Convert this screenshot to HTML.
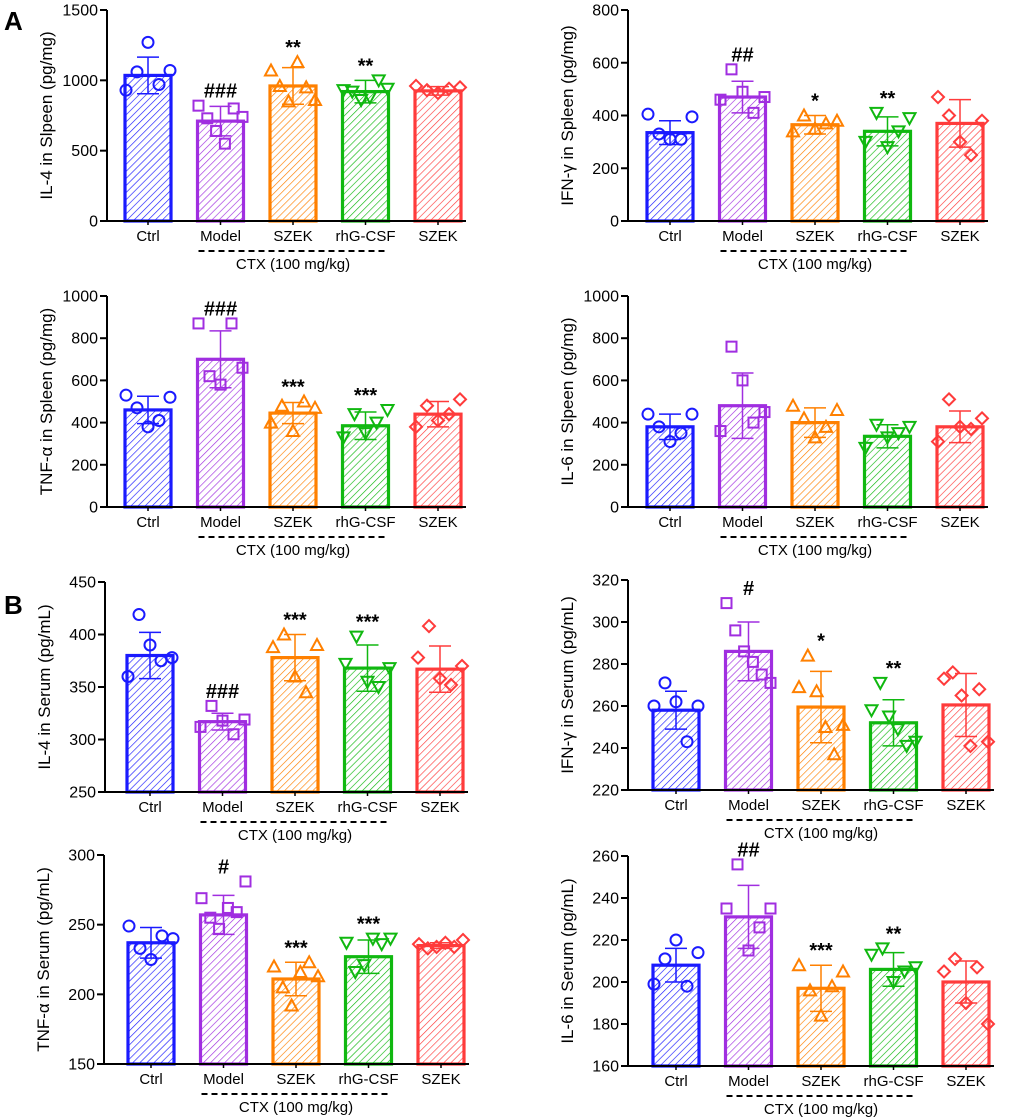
<!DOCTYPE html>
<html><head><meta charset="utf-8"><style>
body{margin:0;background:#fff;}
svg{display:block;font-family:"Liberation Sans",Arial,sans-serif;}
</style></head><body>
<svg id="fig" width="1020" height="1120" viewBox="0 0 1020 1120" xmlns="http://www.w3.org/2000/svg">
<defs></defs>
<text x="4" y="30" font-size="26" font-weight="bold">A</text>
<text x="4" y="614" font-size="26" font-weight="bold">B</text>
</svg>
<script>
const categories = ["Ctrl","Model","SZEK","rhG-CSF","SZEK"];
const colors = ["#1a1aff","#a02ee0","#ff8000","#10b810","#ff3b3b"];

const p1Means = [1035,710,960,920,925];
const p1Sd = [130,105,130,80,30];
const p1Points = [[930,1060,1270,970,1070],[820,730,640,550,800,740],[1070,960,850,1130,950,860],[930,920,860,880,1000,940],[960,930,910,940,950]];
const p1Sig = ["","###","**","**",""];
const p1Ticks = [0,500,1000,1500];

const p2Means = [335,470,365,340,370];
const p2Sd = [45,60,35,55,90];
const p2Points = [[405,330,310,310,395],[460,575,490,410,470],[340,400,350,370,380],[300,410,280,340,390],[470,400,300,250,380]];
const p2Sig = ["","##","*","**",""];
const p2Ticks = [0,200,400,600,800];

const p3Means = [460,700,445,385,440];
const p3Sd = [65,135,50,65,60];
const p3Points = [[530,470,380,410,520],[870,620,580,870,660],[400,480,360,500,470],[330,440,350,400,460],[380,480,410,440,510]];
const p3Sig = ["","###","***","***",""];
const p3Ticks = [0,200,400,600,800,1000];

const p4Means = [380,480,400,335,380];
const p4Sd = [60,155,70,55,75];
const p4Points = [[440,380,310,350,440],[360,760,600,400,450],[480,420,330,380,460],[280,390,330,350,380],[310,510,380,370,420]];
const p4Sig = ["","","","",""];
const p4Ticks = [0,200,400,600,800,1000];

const p5Means = [380,317,378,368,367];
const p5Sd = [22,8,22,22,22];
const p5Points = [[360,419,390,375,378],[312,332,318,305,319],[388,400,360,345,390],[372,398,355,350,368],[378,408,358,352,370]];
const p5Sig = ["","###","***","***",""];
const p5Ticks = [250,300,350,400,450];

const p6Means = [258,286,259.5,252,260.5];
const p6Sd = [9,14,17,11,15];
const p6Points = [[260,271,262,243,260],[309,296,286,281,275,271],[269,284,267,250,237,251],[258,271,255,249,241,243],[273,276,265,241,268,243]];
const p6Sig = ["","#","*","**",""];
const p6Ticks = [220,240,260,280,300,320];

const p7Means = [237,257,211,227,235];
const p7Sd = [11,14,12,12,2];
const p7Points = [[249,233,225,242,240],[269,255,247,262,259,281],[220,205,192,216,223,213],[237,216,221,240,236,240],[236,233,234,237,234,239]];
const p7Sig = ["","#","***","***",""];
const p7Ticks = [150,200,250,300];

const p8Means = [208,231,197,206,200];
const p8Sd = [8,15,11,8,10];
const p8Points = [[199,211,220,198,214],[235,256,215,226,235],[208,196,184,198,205],[213,216,200,205,207],[205,211,190,207,180]];
const p8Sig = ["","##","***","**",""];
const p8Ticks = [160,180,200,220,240,260];

const panels = [
 {name:"il4-spleen",title:"IL-4 in Slpeen (pg/mg)",m:p1Means,s:p1Sd,p:p1Points,sig:p1Sig,t:p1Ticks,ax:107,first:148,top:10,bot:221},
 {name:"ifng-spleen",title:"IFN-γ in Spleen (pg/mg)",m:p2Means,s:p2Sd,p:p2Points,sig:p2Sig,t:p2Ticks,ax:628,first:670,top:10,bot:221},
 {name:"tnfa-spleen",title:"TNF-α in Spleen (pg/mg)",m:p3Means,s:p3Sd,p:p3Points,sig:p3Sig,t:p3Ticks,ax:107,first:148,top:296,bot:507},
 {name:"il6-spleen",title:"IL-6 in Slpeen (pg/mg)",m:p4Means,s:p4Sd,p:p4Points,sig:p4Sig,t:p4Ticks,ax:628,first:670,top:296,bot:507},
 {name:"il4-serum",title:"IL-4 in Serum (pg/mL)",m:p5Means,s:p5Sd,p:p5Points,sig:p5Sig,t:p5Ticks,ax:105,first:150,top:582,bot:792},
 {name:"ifng-serum",title:"IFN-γ in Serum (pg/mL)",m:p6Means,s:p6Sd,p:p6Points,sig:p6Sig,t:p6Ticks,ax:628,first:676,top:580,bot:790},
 {name:"tnfa-serum",title:"TNF-α in Serum (pg/mL)",m:p7Means,s:p7Sd,p:p7Points,sig:p7Sig,t:p7Ticks,ax:104,first:151,top:855,bot:1064},
 {name:"il6-serum",title:"IL-6 in Serum (pg/mL)",m:p8Means,s:p8Sd,p:p8Points,sig:p8Sig,t:p8Ticks,ax:628,first:676,top:856,bot:1066}
];

const NS="http://www.w3.org/2000/svg";
const svg=document.getElementById('fig');
const defs=svg.querySelector('defs');
function mk(tag,attrs,parent){const e=document.createElementNS(NS,tag);for(const k in attrs)e.setAttribute(k,attrs[k]);(parent||svg).appendChild(e);return e;}

colors.forEach((c,i)=>{
  const pat=mk('pattern',{id:'hatch'+i,patternUnits:'userSpaceOnUse',width:5,height:5,patternTransform:'rotate(45)'},defs);
  mk('line',{x1:0,y1:0,x2:0,y2:5,stroke:c,'stroke-width':1.3},pat);
});

function marker(g,shape,x,y,c){
  const st={fill:'none',stroke:c,'stroke-width':2};
  let e;
  if(shape===0)e=mk('circle',Object.assign({cx:x,cy:y,r:5.5},st),g);
  else if(shape===1)e=mk('rect',Object.assign({x:x-5,y:y-5,width:10,height:10},st),g);
  else if(shape===2)e=mk('polygon',Object.assign({points:`${x},${y-6} ${x-6},${y+5} ${x+6},${y+5}`},st),g);
  else if(shape===3)e=mk('polygon',Object.assign({points:`${x},${y+6} ${x-6},${y-5} ${x+6},${y-5}`},st),g);
  else e=mk('polygon',Object.assign({points:`${x},${y-6} ${x+6},${y} ${x},${y+6} ${x-6},${y}`},st),g);
  
  
}

panels.forEach(P=>{
  const g=mk('g',{});
  
  
  const lo=P.t[0],hi=P.t[P.t.length-1];
  const y=v=>P.bot-(v-lo)/(hi-lo)*(P.bot-P.top);
  const step=72.5;
  const x=i=>P.first+i*step;
  const bw=46;
  P.m.forEach((v,i)=>{
    const c=colors[i];
    const r=mk('rect',{x:x(i)-bw/2,y:y(v),width:bw,height:P.bot-y(v),fill:'url(#hatch'+i+')',stroke:c,'stroke-width':3.2},g);
    
    
  });
  P.m.forEach((v,i)=>{
    const c=colors[i];const sd=P.s[i];
    const eb=mk('path',{d:`M${x(i)},${y(v-sd)}V${y(v+sd)}M${x(i)-11},${y(v+sd)}H${x(i)+11}M${x(i)-11},${y(v-sd)}H${x(i)+11}`,stroke:c,'stroke-width':1.5,fill:'none'},g);
    
    
  });
  P.p.forEach((arr,i)=>{
    const n=arr.length;
    arr.forEach((v,j)=>{
      const off=n>1?-22+44*j/(n-1):0;
      marker(g,i,x(i)+off,y(v),colors[i]);
    });
  });
  P.sig.forEach((s,i)=>{
    if(!s)return;
    const topv=Math.max(P.m[i]+P.s[i],...P.p[i]);
    const t=mk('text',{x:x(i),y:y(topv)-8,'text-anchor':'middle','font-size':20,'font-weight':'bold'},g);
    t.textContent=s;
    
    
  });
  const xend=x(4)+bw/2+5;
  const ya=mk('path',{d:`M${P.ax},${P.top}V${P.bot}`,stroke:'#000','stroke-width':2,fill:'none'},g);
  
  
  const xa=mk('path',{d:`M${P.ax},${P.bot}H${xend}`,stroke:'#000','stroke-width':2,fill:'none'},g);
  
  
  P.t.forEach(v=>{
    mk('line',{x1:P.ax-7,x2:P.ax,y1:y(v),y2:y(v),stroke:'#000','stroke-width':2},g);
    const t=mk('text',{x:P.ax-9,y:y(v)+5.5,'text-anchor':'end','font-size':16},g);
    t.textContent=v;
    
    
  });
  categories.forEach((c,i)=>{
    mk('line',{x1:x(i),x2:x(i),y1:P.bot,y2:P.bot+4,stroke:'#000','stroke-width':1.5},g);
    const t=mk('text',{x:x(i),y:P.bot+20,'text-anchor':'middle','font-size':15},g);
    t.textContent=c;
    
    
  });
  const d=mk('line',{x1:x(1)-22,x2:x(3)+22,y1:P.bot+30,y2:P.bot+30,stroke:'#000','stroke-width':2,'stroke-dasharray':'6,4'},g);
  
  
  const ct=mk('text',{x:x(2),y:P.bot+48,'text-anchor':'middle','font-size':15},g);
  ct.textContent='CTX (100 mg/kg)';
  
  
  const cy=(P.top+P.bot)/2;
  const yt=mk('text',{x:P.ax-55,y:cy,'text-anchor':'middle','font-size':17,transform:`rotate(-90 ${P.ax-55} ${cy})`},g);
  yt.textContent=P.title;
  
  
});
</script>
</body></html>
